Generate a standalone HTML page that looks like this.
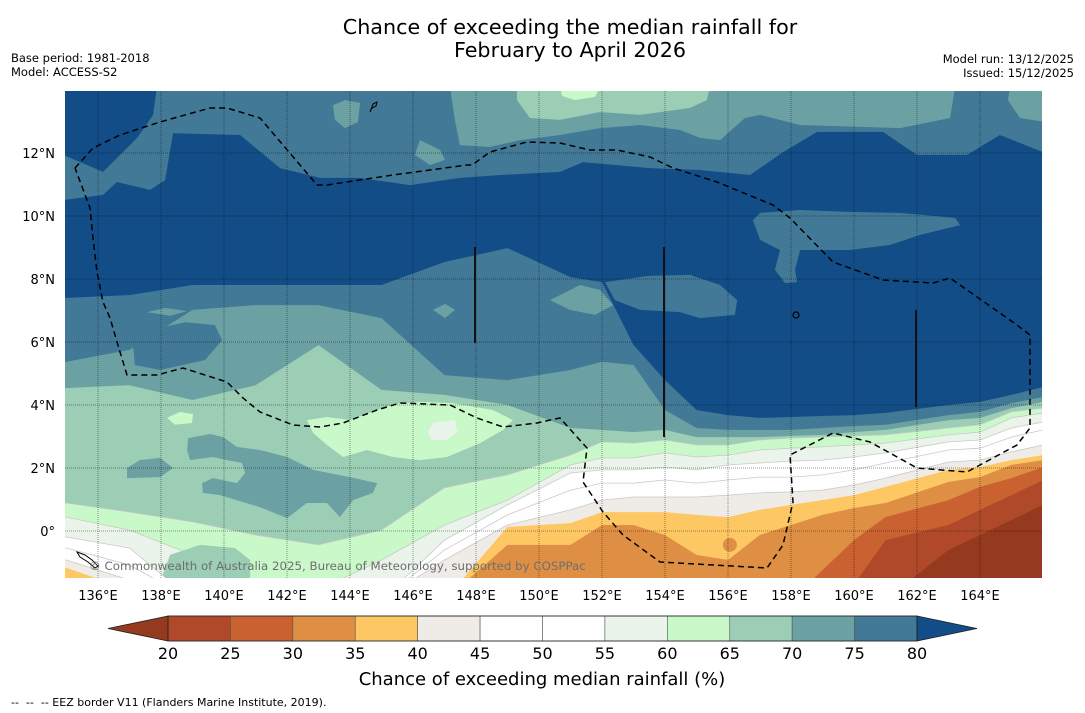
<!DOCTYPE html>
<html><head><meta charset="utf-8"><style>
html,body{margin:0;padding:0;background:#fff;}
svg{display:block;font-family:"DejaVu Sans","Liberation Sans",sans-serif;}
</style></head><body>
<svg id="chart" width="1085" height="713" viewBox="0 0 1085 713" xmlns="http://www.w3.org/2000/svg">
<defs><clipPath id="mapclip"><rect x="65" y="91" width="977" height="487"/></clipPath></defs>
<text x="570" y="34" text-anchor="middle" font-size="20.7">Chance of exceeding the median rainfall for</text>
<text x="570" y="57" text-anchor="middle" font-size="20.7">February to April 2026</text>
<text x="11" y="62" font-size="11.5">Base period: 1981-2018</text>
<text x="11" y="76" font-size="11.5">Model: ACCESS-S2</text>
<text x="1074" y="63" font-size="11.5" text-anchor="end">Model run: 13/12/2025</text>
<text x="1074" y="77" font-size="11.5" text-anchor="end">Issued: 15/12/2025</text>
<g id="map" clip-path="url(#mapclip)"></g>
<g id="overlay"></g>
<g id="axes"></g>
<g id="cbar"></g>
<text x="542" y="685" text-anchor="middle" font-size="18">Chance of exceeding median rainfall (%)</text>
<text x="11" y="706" font-size="11" xml:space="preserve" style="white-space:pre">--  --  -- EEZ border V11 (Flanders Marine Institute, 2019).</text>
</svg>
<script>
const lons = [135,137,139,141,143,145,147,149,151,152,153,154,155,156,157,158,159,160,161,163,164,165,166];
const c80 = [7.40,7.49,7.81,7.81,7.81,7.81,8.54,8.98,8.06,7.90,5.90,4.79,3.84,3.68,3.59,3.62,3.65,3.68,3.75,4.00,4.10,4.32,4.57];
const c75 = [5.37,5.75,7.02,7.17,7.17,6.76,4.95,4.79,5.11,5.37,5.27,3.84,3.27,3.21,3.21,3.21,3.27,3.33,3.37,3.68,3.78,4.06,4.25];
const c70 = [4.54,4.63,4.16,4.63,5.90,4.48,4.32,4.00,3.27,3.21,3.14,3.21,2.98,2.98,2.98,3.02,3.05,3.14,3.21,3.52,3.59,3.90,4.10];
const c65 = [0.89,0.60,0.29,-0.13,-0.44,0.03,1.37,1.78,2.41,2.83,2.79,2.89,2.73,2.73,2.89,2.95,2.98,3.02,3.05,3.27,3.37,3.78,3.90];
const c60 = [0.44,0.03,-0.76,-1.87,-1.87,-0.92,0.19,0.98,2.10,2.32,2.32,2.48,2.35,2.41,2.57,2.63,2.67,2.73,2.79,3.05,3.14,3.59,3.75];
const c55 = [-0.19,-0.54,-2.19,-2.19,-2.19,-2.19,-0.29,0.83,1.84,1.94,1.94,2.03,1.94,2.10,2.16,2.22,2.25,2.35,2.48,2.83,2.89,3.27,3.46];
const c50 = [-0.54,-1.08,-2.19,-2.19,-2.19,-2.19,-0.60,0.51,1.30,1.52,1.52,1.62,1.52,1.62,1.71,1.71,1.78,1.94,2.16,2.57,2.63,2.98,3.21];
const c45 = [-0.92,-1.56,-2.19,-2.19,-2.19,-2.19,-0.92,0.19,0.67,0.98,1.08,1.08,1.08,1.14,1.21,1.24,1.30,1.46,1.68,2.19,2.25,2.51,2.73];
const c40 = [-1.17,-1.87,-2.19,-2.19,-2.19,-2.19,-2.19,0.13,0.25,0.60,0.60,0.60,0.51,0.44,0.67,0.83,0.98,1.14,1.40,1.94,2.03,2.25,2.41];
const c35 = [-2.19,-2.19,-2.19,-2.19,-2.19,-2.19,-2.19,-0.44,-0.44,0.19,0.19,-0.13,-0.76,-0.92,-0.13,0.19,0.51,0.73,0.89,1.56,1.71,2.10,2.25];
const c30 = [-2.19,-2.19,-2.19,-2.19,-2.19,-2.19,-2.19,-2.19,-2.19,-2.19,-2.19,-2.19,-2.19,-2.19,-2.19,-2.19,-1.24,-0.29,0.44,0.98,1.40,1.68,2.03];
const c25 = [-2.19,-2.19,-2.19,-2.19,-2.19,-2.19,-2.19,-2.19,-2.19,-2.19,-2.19,-2.19,-2.19,-2.19,-2.19,-2.19,-2.19,-1.70,-0.29,0.19,0.67,1.14,1.62];
const c20 = [-2.19,-2.19,-2.19,-2.19,-2.19,-2.19,-2.19,-2.19,-2.19,-2.19,-2.19,-2.19,-2.19,-2.19,-2.19,-2.19,-2.19,-2.19,-2.19,-0.60,-0.13,0.35,0.83];
const northDarkEdge = [[134.95,10.51],[136.16,10.67],[136.60,11.08],[137.65,10.83],[138.13,11.14],[138.38,12.63],[140.51,12.57],[141.78,11.52],[143.05,11.21],[144.32,11.21],[145.90,10.98],[147.49,11.21],[148.76,11.30],[150.67,11.40],[151.40,11.71],[153.52,11.52],[155.11,11.46],[156.70,11.30],[157.75,12.03],[158.83,12.67],[160.92,12.67],[162.0,11.94],[163.59,11.94],[164.63,12.57],[166.0,12.03]];
const darkTopLeft = [[134.9,14.1],[137.87,14.1],[137.75,13.21],[137.24,12.48],[136.16,11.40],[134.9,11.94]];
const tealNorth1 = [[147.17,14.1],[163.21,14.1],[163.05,13.11],[161.46,12.79],[158.29,12.89],[157.02,13.21],[156.54,13.11],[155.75,12.41],[155.11,12.48],[154.48,12.73],[153.21,12.89],[151.94,12.79],[150.67,12.57],[149.40,12.41],[148.44,12.19],[147.49,12.25],[147.33,13.05]];
const tealNorth2 = [[164.95,14.1],[166.1,14.1],[166.1,12.98],[165.27,13.11],[164.89,13.68]];
const tealBlobA = [[143.46,13.52],[143.84,13.68],[144.32,13.59],[144.25,12.98],[143.84,12.79],[143.52,13.05]];
const tealBlobB = [[146.22,12.41],[146.86,12.10],[147.02,11.78],[146.54,11.62],[146.06,11.94]];
const green70North = [[149.30,14.1],[155.43,14.1],[155.33,13.68],[154.79,13.43],[153.21,13.21],[151.94,13.30],[150.67,13.05],[149.71,13.11],[149.30,13.68]];
const green65North = [[150.67,14.1],[151.94,14.1],[151.78,13.78],[151.14,13.68],[150.73,13.81]];
const medBlobNorth = [[156.79,9.87],[157.02,10.10],[158.29,10.19],[159.87,10.13],[161.46,10.10],[163.21,9.94],[163.37,9.71],[162.10,9.40],[161.14,9.08],[159.87,8.92],[158.29,8.92],[158.13,8.29],[158.19,7.90],[157.81,7.87],[157.49,8.29],[157.65,8.92],[157.02,9.24]];
const medIntrusion = [[152.10,7.90],[153.46,8.10],[154.79,8.13],[155.75,7.81],[156.29,7.33],[156.22,6.86],[155.11,6.76],[154.48,6.95],[153.21,7.02],[152.41,7.33]];
const medBlobSW = [[137.11,5.90],[137.65,6.38],[138.76,6.63],[139.71,6.54],[139.94,6.06],[139.40,5.43],[137.97,5.11],[137.17,5.27]];
const tealInMed1 = [[150.35,7.33],[151.30,7.81],[151.94,7.65],[152.35,7.17],[151.78,6.86],[150.98,7.02]];
const tealInMed2 = [[146.63,7.02],[147.02,7.21],[147.33,7.02],[147.02,6.76]];
const tealInMed3 = [[137.56,6.95],[138.13,7.08],[138.83,6.98],[138.29,6.83]];
const tealSouthBig = [[138.86,2.95],[139.56,3.08],[139.97,2.98],[140.41,2.67],[141.14,2.57],[142.0,2.35],[142.83,1.94],[144.0,1.71],[144.86,1.52],[144.73,1.21],[144.10,0.98],[143.68,0.44],[143.27,0.89],[142.63,0.89],[142.0,0.41],[141.14,0.76],[139.87,1.14],[139.33,1.21],[139.30,1.52],[139.65,1.68],[140.41,1.52],[140.67,1.84],[140.57,2.16],[140.10,2.25],[139.65,2.35],[138.92,2.25],[138.83,2.57]];
const tealSouthSmall = [[136.92,2.0],[137.33,2.25],[137.97,2.32],[138.38,2.0],[137.97,1.71],[136.92,1.68]];
const green65Blob = [[142.63,3.52],[143.27,3.62],[144.0,3.52],[144.86,3.84],[145.37,4.03],[146.22,4.10],[147.27,4.06],[148.54,3.84],[149.17,3.52],[148.86,3.21],[148.13,2.79],[147.08,2.35],[146.22,2.25],[145.37,2.35],[144.54,2.57],[143.78,2.35],[143.27,2.73],[142.83,3.11]];
const green60Blob = [[146.63,3.43],[147.33,3.52],[147.40,3.14],[147.08,2.89],[146.60,2.89],[146.48,3.14]];
const green65Small = [[138.19,3.59],[138.60,3.78],[139.02,3.71],[138.98,3.43],[138.44,3.37]];
const green70Bottom = [[137.97,-1.6],[138.29,-0.76],[139.24,-0.44],[140.35,-0.54],[140.83,-0.92],[140.83,-1.6]];
const cbLevels = [20,25,30,35,40,45,50,55,60,65,70,75,80];
const lonTicks = [136,138,140,142,144,146,148,150,152,154,156,158,160,162,164];
const latTicks = [0,2,4,6,8,10,12];

const C = {lt20:'#953a1f',c20:'#b0492a',c25:'#c96230',c30:'#df8f44',c35:'#fdc863',c40:'#efebe7',c45:'#fefefe',c50:'#ffffff',c55:'#ebf4ea',c60:'#c9f9c9',c65:'#9ccdb5',c70:'#6ba1a3',c75:'#427997',gt80:'#134d87'};
const cbColors = [C.c20,C.c25,C.c30,C.c35,C.c40,C.c45,C.c50,C.c55,C.c60,C.c65,C.c70,C.c75];

const NS='http://www.w3.org/2000/svg';
function xs(lon){return 98+(lon-136)*31.5;}
function ys(lat){return 531-lat*31.5;}
function el(tag,attrs,parent){const e=document.createElementNS(NS,tag);for(const k in attrs)e.setAttribute(k,attrs[k]);parent.appendChild(e);return e;}
const map=document.getElementById('map');
const overlay=document.getElementById('overlay');
const axes=document.getElementById('axes');
const cbar=document.getElementById('cbar');

function poly(pts,fill,name){
  const d='M'+pts.map(p=>xs(p[0]).toFixed(1)+','+ys(p[1]).toFixed(1)).join('L')+'Z';
  const p=el('path',{d:d,fill:fill},map);
  
  
}
function band(lats,fill,name,line){
  let pts=[[134.5,lats[0]]];
  lons.forEach((l,i)=>pts.push([l,lats[i]]));
  pts.push([166.5,lats[lats.length-1]]);
  const top=pts.map(p=>xs(p[0]).toFixed(1)+','+ys(p[1]).toFixed(1)).join('L');
  const d='M'+top+'L'+xs(166.5)+','+ys(-3)+'L'+xs(134.5)+','+ys(-3)+'Z';
  const p=el('path',{d:d,fill:fill},map);
  
  
  if(line){
    const l=el('path',{d:'M'+top,fill:'none',stroke:'#c9c9c9','stroke-width':0.8},map);
    
    
  }
}
const bg=el('rect',{x:65,y:91,width:977,height:487,fill:C.gt80},map);


poly(northDarkEdge.concat([[166.1,14.1],[134.9,14.1]]),C.c75,'north-band-75-80');
poly(darkTopLeft,C.gt80,'dark-blob-northwest');
poly(tealNorth1,C.c70,'north-band-70-75');
poly(tealNorth2,C.c70,'north-band-70-75-east');
poly(tealBlobA,C.c70,'teal-blob-a');
poly(tealBlobB,C.c70,'teal-blob-b');
poly(green70North,C.c65,'north-band-65-70');
poly(green65North,C.c60,'north-band-60-65');
poly(medBlobNorth,C.c75,'medium-blob-north');
band(c80,C.c75,'band-75-80');
poly(medIntrusion,C.c75,'medium-intrusion');
poly(tealInMed1,C.c70,'teal-in-medium-1');
poly(tealInMed2,C.c70,'teal-in-medium-2');
poly(tealInMed3,C.c70,'teal-in-medium-3');
band(c75,C.c70,'band-70-75');
poly(medBlobSW,C.c75,'medium-blob-southwest');
band(c70,C.c65,'band-65-70');
poly(tealSouthBig,C.c70,'teal-blob-south');
poly(tealSouthSmall,C.c70,'teal-blob-south-small');
poly(green65Blob,C.c60,'green-blob-60-65');
poly(green60Blob,C.c55,'green-blob-55-60');
poly(green65Small,C.c60,'green-blob-small');
band(c65,C.c60,'band-60-65',true);
band(c60,C.c55,'band-55-60',true);
poly(green70Bottom,C.c65,'green-blob-bottom');
band(c55,C.c50,'band-50-55',true);
band(c50,C.c45,'band-45-50',true);
band(c45,C.c40,'band-40-45',true);
band(c40,C.c35,'band-35-40');
band(c35,C.c30,'band-30-35');
const ob=el('circle',{cx:xs(156.06),cy:ys(-0.44),r:7,fill:C.c30},map);


band(c30,C.c25,'band-25-30');
band(c25,C.c20,'band-20-25');
band(c20,C.lt20,'band-below-20');

lonTicks.forEach(l=>{
  const g=el('line',{x1:xs(l),x2:xs(l),y1:91,y2:578,stroke:'rgba(0,0,0,0.4)','stroke-width':1,'stroke-dasharray':'1,1'},map);
  
  
});
latTicks.forEach(l=>{
  const g=el('line',{x1:65,x2:1042,y1:ys(l),y2:ys(l),stroke:'rgba(0,0,0,0.4)','stroke-width':1,'stroke-dasharray':'1,1'},map);
  
  
});
[[475,247,343],[664,247,437],[916,310,407]].forEach(v=>{
  const l=el('line',{x1:v[0],x2:v[0],y1:v[1],y2:v[2],stroke:'#111','stroke-width':2},overlay);
  
  
});
const eezPts=[[75,168],[93,148],[120,135],[160,122],[210,108],[227,108],[260,118],[300,165],[317,185],[327,185],[393,175],[467,165],[472,165],[490,152],[527,142],[560,143],[590,150],[617,150],[650,157],[673,168],[717,182],[773,205],[790,218],[833,262],[883,280],[933,283],[950,278],[1017,325],[1030,335],[1030,428],[1017,445],[967,472],[917,468],[870,442],[833,433],[790,455],[793,502],[783,545],[767,568],[660,562],[623,535],[603,512],[583,482],[587,448],[560,418],[550,420],[537,423],[503,427],[477,418],[450,405],[400,403],[377,410],[343,423],[320,427],[293,425],[260,412],[243,398],[227,382],[183,368],[157,375],[127,375],[120,352],[110,318],[103,302],[97,272],[93,238],[90,208],[75,168]];
const eez=el('path',{d:'M'+eezPts.map(p=>p.join(',')).join('L'),fill:'none',stroke:'#000','stroke-width':1.5,'stroke-dasharray':'6,4'},overlay);


const isl=el('circle',{cx:796,cy:315,r:3,fill:'none',stroke:'#000','stroke-width':1.2},overlay);


const isl2=el('path',{d:'M370,112 L373,104 L377,102 L376,106 L372,108 Z',fill:'none',stroke:'#000','stroke-width':1},overlay);


const isl3=el('path',{d:'M77,552 L85,555 L92,560 L98,566 L95,568 L88,562 L80,557 Z',fill:'none',stroke:'#000','stroke-width':1},overlay);


const cp=el('text',{x:89,y:570,'font-size':11.8,fill:'#6e6e6e'},overlay);
cp.textContent='© Commonwealth of Australia 2025, Bureau of Meteorology, supported by COSPPac';



lonTicks.forEach(l=>{
  const t=el('text',{x:xs(l),y:600,'font-size':13,'text-anchor':'middle'},axes);
  t.textContent=l+'°E';
  
  
});
latTicks.forEach(l=>{
  const t=el('text',{x:55,y:ys(l)+5,'font-size':13,'text-anchor':'end'},axes);
  t.textContent=l===0?'0°':l+'°N';
  
  
});

const cbX0=168, cbW=(917-168)/12, cbY=616, cbH=25;
cbColors.forEach((c,i)=>{
  const r=el('rect',{x:cbX0+i*cbW,y:cbY,width:cbW,height:cbH,fill:c,stroke:'#555','stroke-width':0.6},cbar);
  
  
});
const lt=el('path',{d:`M${cbX0},${cbY} L108,${cbY+cbH/2} L${cbX0},${cbY+cbH} Z`,fill:C.lt20,stroke:'#222','stroke-width':0.8},cbar);


const rt=el('path',{d:`M${917},${cbY} L977,${cbY+cbH/2} L917,${cbY+cbH} Z`,fill:C.gt80,stroke:'#222','stroke-width':0.8},cbar);


const fr=el('rect',{x:cbX0,y:cbY,width:917-cbX0,height:cbH,fill:'none',stroke:'#222','stroke-width':0.8},cbar);


cbLevels.forEach((v,i)=>{
  const t=el('text',{x:cbX0+i*cbW,y:659,'font-size':16,'text-anchor':'middle'},cbar);
  t.textContent=v;
  
  
});
</script>
</body></html>
